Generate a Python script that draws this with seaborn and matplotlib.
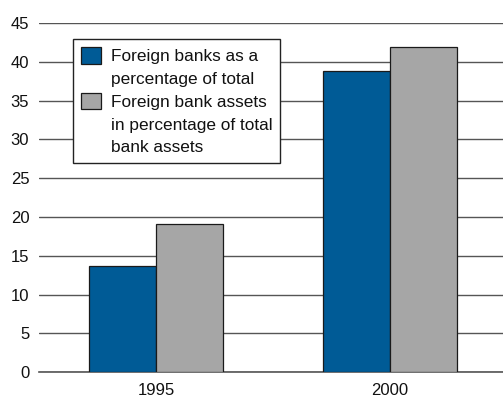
import matplotlib
matplotlib.use("Agg")
import matplotlib.pyplot as plt
from matplotlib.patches import Patch
import seaborn as sns
import pandas as pd

years = ["1995", "2000"]
series_names = [
    "Foreign banks as a\npercentage of total",
    "Foreign bank assets\nin percentage of total\nbank assets",
]
banks_share = [13.7, 38.8]
assets_share = [19.1, 41.9]
y_ticks = [0, 5, 10, 15, 20, 25, 30, 35, 40, 45]
colors = ["#005B96", "#A6A6A6"]

df = pd.DataFrame({
    "year": years * 2,
    "series": [series_names[0]] * len(years) + [series_names[1]] * len(years),
    "value": banks_share + assets_share,
})

sns.set_theme(style="white")
plt.rcParams["font.family"] = ["Liberation Sans", "DejaVu Sans"]

fig = plt.figure(figsize=(5.03, 3.98), dpi=100)
ax = fig.add_axes([39 / 503, 1 - 372.3 / 398, 468 / 503, 349.3 / 398])

sns.barplot(
    data=df, x="year", y="value", hue="series", order=years,
    hue_order=series_names, palette=colors, width=0.572,
    edgecolor="#1a1a1a", linewidth=0.9, saturation=1, ax=ax, zorder=3,
)

ax.set_xlim(-0.5, 1.5)
ax.set_ylim(0, 45)
ax.set_yticks(y_ticks)
ax.yaxis.grid(True, color="#555555", linewidth=1.0, zorder=0)
ax.set_axisbelow(True)
ax.set_xlabel("")
ax.set_ylabel("")

for side in ["left", "right", "top"]:
    ax.spines[side].set_visible(False)
ax.spines["bottom"].set_color("#555555")
ax.spines["bottom"].set_linewidth(1.2)

ax.tick_params(axis="y", length=0, pad=7, labelsize=12, labelcolor="#111111")
ax.tick_params(axis="x", which="major", length=0, pad=8, labelsize=12, labelcolor="#111111")
ax.set_xticks([-0.5, 0.5, 1.5], minor=True)
ax.tick_params(axis="x", which="minor", length=7, width=1.0, color="#111111", direction="out")

# One legend row per text line; the colour swatch sits on the first line of each entry.
ax.get_legend().remove()
leg_handles, leg_labels = [], []
for color, name in zip(colors, series_names):
    for i, line in enumerate(name.split("\n")):
        if i == 0:
            leg_handles.append(Patch(facecolor=color, edgecolor="#1a1a1a", linewidth=0.9))
        else:
            leg_handles.append(Patch(facecolor="none", edgecolor="none"))
        leg_labels.append(line)

leg = ax.legend(
    leg_handles, leg_labels, loc="upper left",
    bbox_to_anchor=(34.3 / 468, (372.3 - 39.3) / 349.3), borderaxespad=0,
    fontsize=12.4, frameon=True, fancybox=False, shadow=False,
    handlelength=1.145, handleheight=1.13, handletextpad=0.6,
    borderpad=0.45, labelspacing=0.32,
)
for t in leg.get_texts():
    t.set_color("#111111")
leg.get_frame().set_edgecolor("#222222")
leg.get_frame().set_linewidth(1.0)
leg.get_frame().set_alpha(1)

fig.savefig("out.png", dpi=100)
